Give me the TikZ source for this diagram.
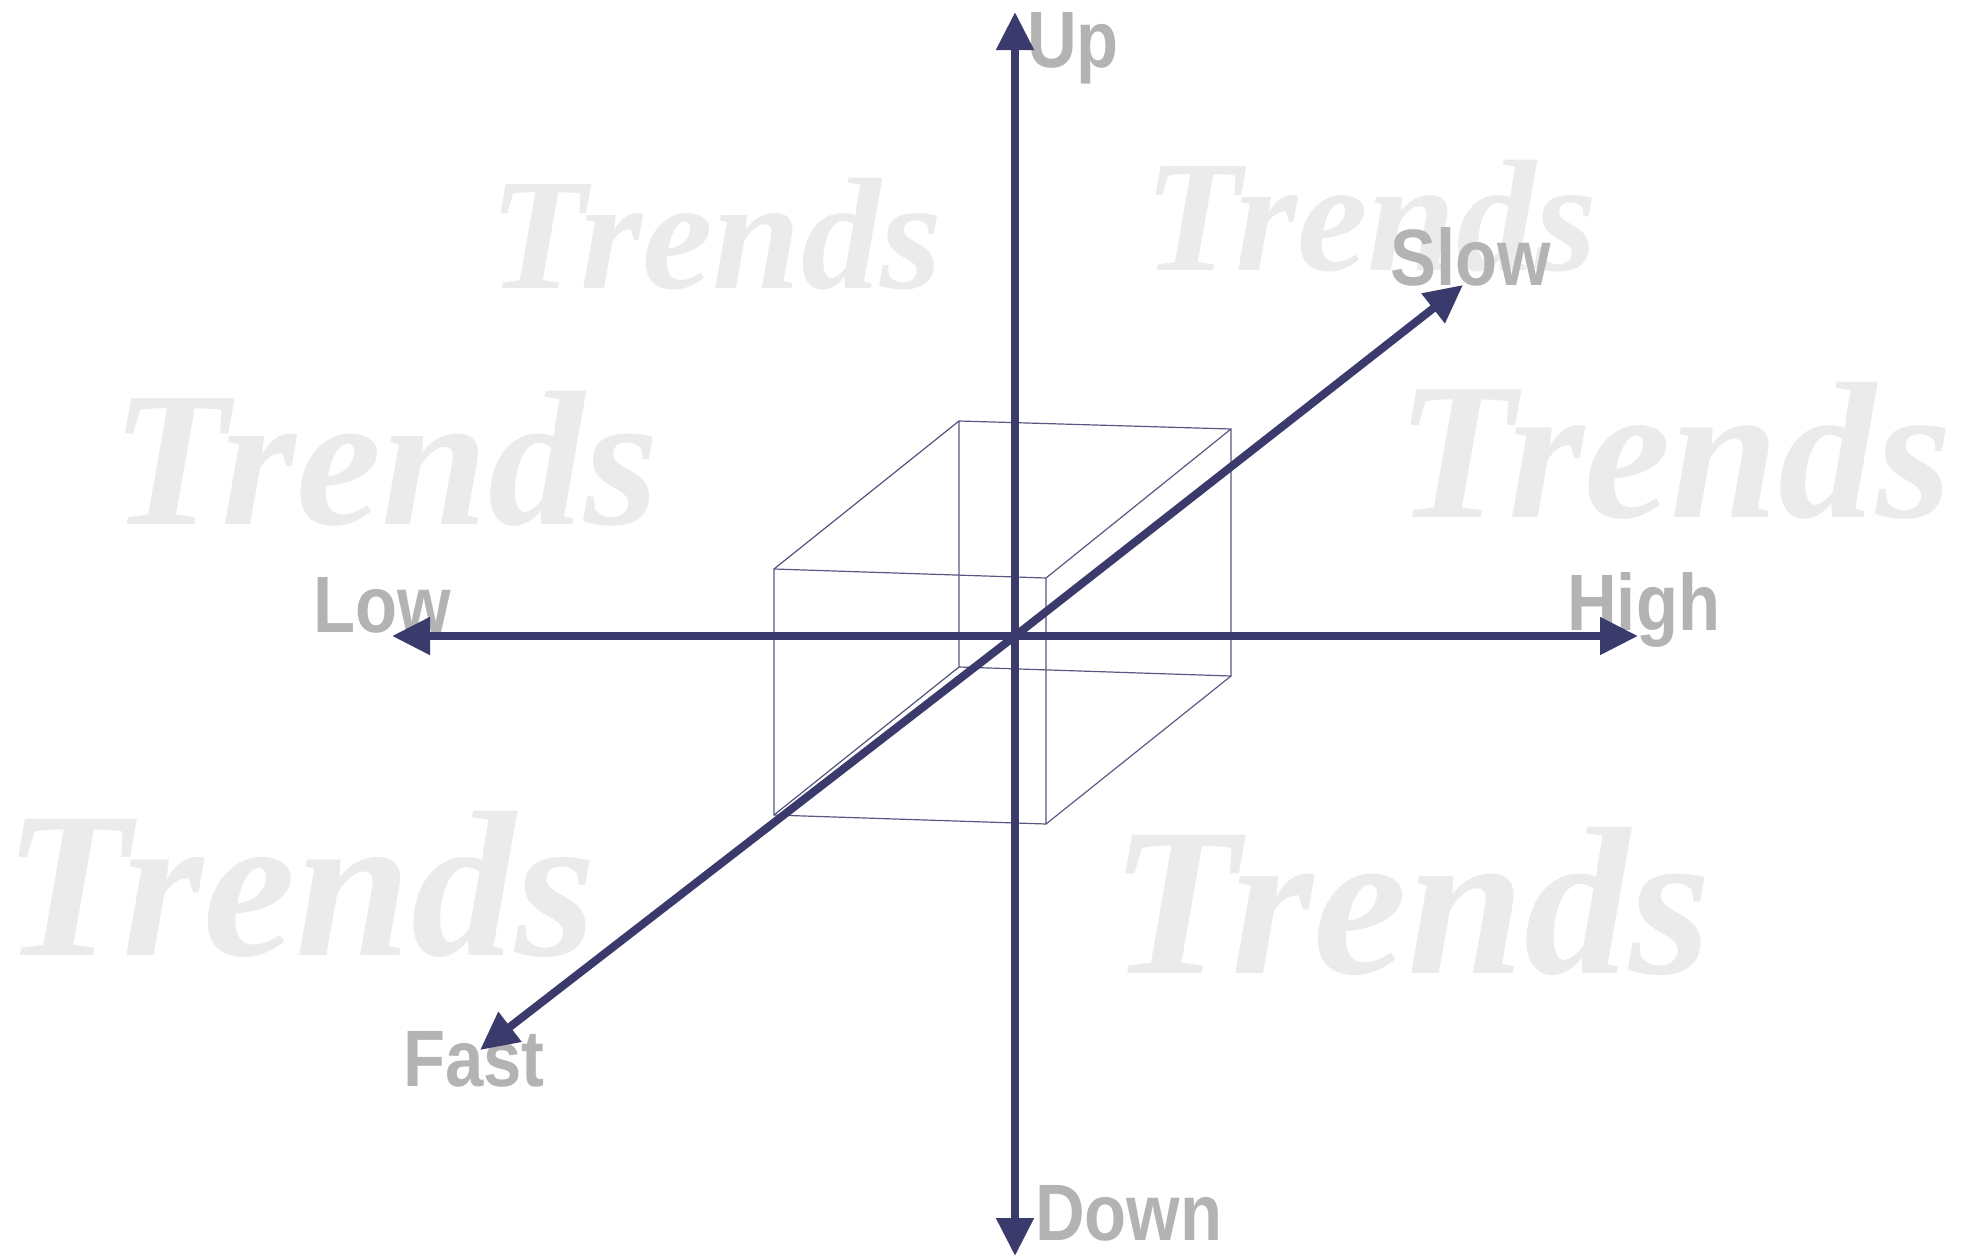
\documentclass[tikz,border=0pt]{standalone}
\usepackage{fontspec}
\setmainfont{Liberation Serif}
\newfontfamily\axisfont[FakeStretch=0.86]{Liberation Sans}
\usetikzlibrary{arrows.meta}
\definecolor{axisnavy}{HTML}{3B3A6C}
\definecolor{labelgray}{HTML}{B3B3B3}
\definecolor{markgray}{HTML}{EBEBEB}

\begin{document}
\begin{tikzpicture}[x=1pt,y=-1pt,
    axisline/.style={line width=8pt,axisnavy,-{Triangle[length=38pt,width=36pt]}},
    cubeedge/.style={line width=1.2pt,axisnavy!85},
    dirlabel/.style={font=\axisfont\bfseries\fontsize{80}{80}\selectfont,text=labelgray,inner sep=0pt,anchor=base west},
    trendmark/.style={font=\bfseries\itshape\fontsize{#1}{#1}\selectfont,text=markgray,inner sep=0pt,anchor=base west}
]
\useasboundingbox (0,0) rectangle (1971,1256);

\node[trendmark=159] (trend1) at (489,288) {Trends};
\node[trendmark=159] (trend2) at (1144,270) {Trends};
\node[trendmark=192] (trend3) at (111,524) {Trends};
\node[trendmark=195] (trend4) at (1396,517) {Trends};
\node[trendmark=208] (trend5) at (3,955) {Trends};
\node[trendmark=211] (trend6) at (1110,973) {Trends};

\coordinate (f1) at (774,569);
\coordinate (f2) at (1046,578);
\coordinate (f3) at (1046,824);
\coordinate (f4) at (774,815);
\coordinate (b1) at (959,421);
\coordinate (b2) at (1231,429);
\coordinate (b3) at (1231,676);
\coordinate (b4) at (959,667);
\draw[cubeedge] (f1) -- (f2) -- (f3) -- (f4) -- cycle;
\draw[cubeedge] (b1) -- (b2) -- (b3) -- (b4) -- cycle;
\foreach \i in {1,...,4}
    \draw[cubeedge] (f\i) -- (b\i);

\node[dirlabel] (up) at (1027,67) {Up};
\node[dirlabel] (down) at (1035,1240) {Down};
\node[dirlabel] (low) at (313,632) {Low};
\node[dirlabel] (high) at (1567,630) {High};
\node[dirlabel] (slow) at (1390,285) {Slow};
\node[dirlabel] (fast) at (403,1086) {Fast};

\coordinate (o) at (1015,636);
\coordinate (uptip) at (1015,12);
\coordinate (downtip) at (1015,1256);
\coordinate (lowtip) at (392,636);
\coordinate (hightip) at (1638,636);
\coordinate (slowtip) at (1463,285);
\coordinate (fasttip) at (480,1050);
\draw[axisline] (o) -- (uptip);
\draw[axisline] (o) -- (downtip);
\draw[axisline] (o) -- (lowtip);
\draw[axisline] (o) -- (hightip);
\draw[axisline] (o) -- (slowtip);
\draw[axisline] (o) -- (fasttip);
\end{tikzpicture}
\end{document}
